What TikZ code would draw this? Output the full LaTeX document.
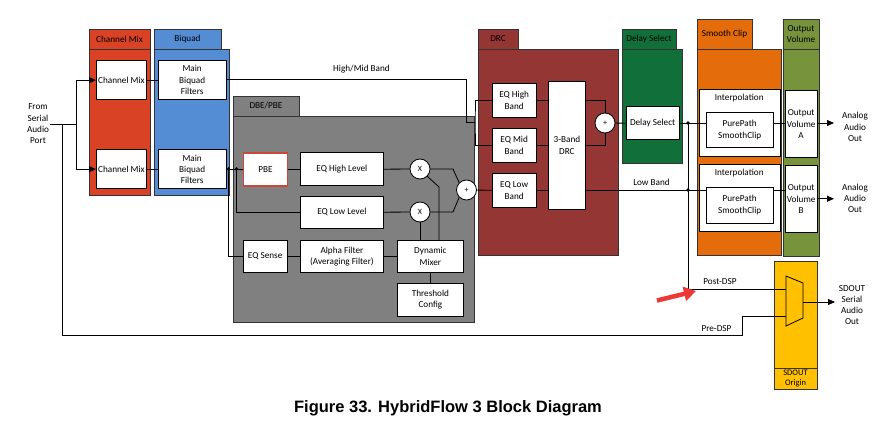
\documentclass[tikz,border=0pt]{standalone}
\usepackage{fontspec}
\setmainfont{Carlito}
\newfontfamily\capfont{Liberation Sans}
\usetikzlibrary{arrows.meta}
\definecolor{cmred}{RGB}{217,66,36}
\definecolor{bqblue}{RGB}{85,141,213}
\definecolor{dbegray}{RGB}{128,128,128}
\definecolor{drcred}{RGB}{148,55,52}
\definecolor{dsgreen}{RGB}{17,112,58}
\definecolor{scorange}{RGB}{228,108,10}
\definecolor{ovgreen}{RGB}{119,147,60}
\definecolor{sdyellow}{RGB}{255,192,0}
\definecolor{pbered}{RGB}{205,70,60}
\definecolor{annred}{RGB}{238,56,56}
\begin{document}
\begin{tikzpicture}[x=1pt,y=-1pt,
 every node/.style={font=\fontsize{9.2}{11.3}\selectfont, inner sep=1pt},
 grp/.style={draw=black!80, line width=0.8pt},
 blk/.style={draw=black, fill=white, line width=0.8pt, align=center, anchor=north west},
 wh/.style 2 args={minimum width=#1pt, minimum height=#2pt},
 circ/.style={circle, draw=black, fill=white, line width=0.8pt, minimum size=20pt, inner sep=0pt, font=\fontsize{8}{9}\selectfont},
 wire/.style={line width=0.8pt, draw=black},
 arr/.style={wire, -{Triangle[length=7pt,width=6pt]}},
 jdot/.style={circle, fill=black, inner sep=0pt, minimum size=3.6pt},
 lbl/.style={align=center}
]
\useasboundingbox (0,0) rectangle (884,425);
\fill[white] (0,0) rectangle (884,425);

% ---------- groups ----------
\draw[grp, fill=cmred] (89,29) rectangle (150,195);
\draw[grp] (89,49) -- (150,49);
\node (cmT) at (119.5,39) {Channel Mix};

\draw[grp, fill=bqblue] (154,29) rectangle (221,49);
\draw[grp, fill=bqblue] (154,49) rectangle (229,195);
\node (bqT) at (187.5,39) {Biquad};

\draw[grp, fill=dbegray] (233,96) rectangle (299,116);
\draw[grp, fill=dbegray] (233,116) rectangle (474,322);
\node (dbeT) at (266,106) {DBE/PBE};

\draw[grp, fill=drcred] (478,29) rectangle (518,49);
\draw[grp, fill=drcred] (478,49) rectangle (618,255);
\node (drcT) at (498,39) {DRC};

\draw[grp, fill=dsgreen] (622,29) rectangle (676,49);
\draw[grp, fill=dsgreen] (622,49) rectangle (682,163);
\node (dsT) at (649,39) {Delay Select};

\draw[grp, fill=scorange] (697,19) rectangle (752,49);
\draw[grp, fill=scorange] (697,49) rectangle (781,255);
\node (scT) at (724.5,34) {Smooth Clip};

\draw[grp, fill=ovgreen] (783,19) rectangle (819,256);
\draw[grp] (783,49) -- (819,49);
\node[lbl] (ovT) at (801,34) {Output\\Volume};

\draw[grp, fill=sdyellow] (774,261) rectangle (817,389);
\draw[grp] (774,368) -- (817,368);
\node[lbl, font=\fontsize{8.5}{10}\selectfont] (sdT) at (795.5,378.5) {SDOUT\\Origin};

% ---------- blocks ----------
\node[blk, wh={50}{39.5}] (cmA) at (96,60) {Channel Mix};
\node[blk, wh={50}{39.5}] (cmB) at (96,149) {Channel Mix};
\node[blk, wh={67.5}{39}] (bqA) at (158,60) {Main\\Biquad\\Filters};
\node[blk, wh={67.5}{39}] (bqB) at (158,149.5) {Main\\Biquad\\Filters};

\node[blk, wh={43.5}{33}, draw=pbered, line width=1.3pt] (pbe) at (243,152.5) {PBE};
\node[blk, wh={83}{33}] (eqhl) at (300,152.5) {EQ High Level};
\node[blk, wh={83}{32}] (eqll) at (300,196) {EQ Low Level};
\node[blk, wh={43.5}{32}] (eqs) at (243,240) {EQ Sense};
\node[blk, wh={83}{32}] (alpha) at (300,240) {Alpha Filter\\(Averaging Filter)};
\node[blk, wh={66}{32}] (dmix) at (397,240) {Dynamic\\Mixer};
\node[blk, wh={66}{33}] (thr) at (397,283) {Threshold\\Config};
\node[circ] (x1) at (420,169) {X};
\node[circ] (x2) at (420,212) {X};
\node[circ] (p1) at (466.5,190) {+};

\node[blk, wh={43.5}{33.5}] (eqhb) at (492,83.25) {EQ High\\Band};
\node[blk, wh={43.5}{33.5}] (eqmb) at (492,128.25) {EQ Mid\\Band};
\node[blk, wh={43.5}{33.5}] (eqlb) at (492,173.25) {EQ Low\\Band};
\node[blk, wh={37}{128}] (drc3) at (548,81) {3-Band\\DRC};
\node[circ] (p2) at (605,123) {+};

\node[blk, wh={52.5}{33}] (dsel) at (626,106.5) {Delay Select};

\node[blk, wh={80.5}{67}] (int1) at (699,89) {};
\node (int1T) at (739.25,98.5) {Interpolation};
\node[blk, wh={66.5}{35.5}] (pp1) at (706,112) {PurePath\\SmoothClip};
\node[blk, wh={80.5}{67}] (int2) at (699,164) {};
\node (int2T) at (739.25,173.5) {Interpolation};
\node[blk, wh={66.5}{35.5}] (pp2) at (706,187) {PurePath\\SmoothClip};

\node[blk, wh={31.5}{66.5}] (ovA) at (785,90.5) {Output\\Volume\\A};
\node[blk, wh={31.5}{66.5}] (ovB) at (785,165.5) {Output\\Volume\\B};

% ---------- free texts ----------
\node[lbl] (src) at (38,124) {From\\Serial\\Audio\\Port};
\node[lbl] (aoA) at (855,127) {Analog\\Audio\\Out};
\node[lbl] (aoB) at (855,198.5) {Analog\\Audio\\Out};
\node[lbl] (sdo) at (852,305) {SDOUT\\Serial\\Audio\\Out};
\node (hmL) at (361.5,69) {High/Mid Band};
\node (lbL) at (651.5,182) {Low Band};
\node (postL) at (720,282) {Post-DSP};
\node (preL) at (716.5,328.5) {Pre-DSP};
\node[font=\capfont\bfseries\fontsize{16.5}{20}\selectfont] (cap) at (448,408) {Figure 33. HybridFlow 3 Block Diagram};

% ---------- coordinates ----------
\coordinate (j0) at (76,124);
\coordinate (j1) at (62,124);
\coordinate (preC) at (62,335);
\coordinate (preK) at (742,335);
\coordinate (hmK) at (466.5,122);
\coordinate (hm) at (475,122);
\coordinate (d1) at (228.5,169);
\coordinate (d2) at (236.5,169);
\coordinate (k1) at (453,169);
\coordinate (k2) at (453,212);
\coordinate (dm2) at (439,187);
\coordinate (dA) at (688,123);
\coordinate (dB) at (688,190);
\coordinate (oA) at (834,123);
\coordinate (oB) at (834,198.75);
\coordinate (muxTL) at (786,276);
\coordinate (muxTR) at (803,283);
\coordinate (muxBR) at (803,318);
\coordinate (muxBL) at (786,326);
\coordinate (muxI1) at (786,289);
\coordinate (muxI2) at (786,316);
\coordinate (muxO) at (803,302);
\coordinate (sdoTip) at (835,302);
\coordinate (ra1) at (657,300.5);
\coordinate (ra2) at (696,291);

% ---------- connectors ----------
\draw[wire] (src.east |- j0) -- (j0);
\draw[arr] (j0) |- (cmA.west);
\draw[arr] (j0) |- (cmB.west);
\draw[wire] (j1) -- (preC) -- (preK) |- (muxI2);
\draw[wire] (cmA.east) -- (cmA.east -| bqA.west);
\draw[wire] (cmB.east) -- (cmB.east -| bqB.west);
\draw[wire] (bqA.east) -| (hmK) -- (hm);
\draw[wire] (eqhb.west) -| (hm) |- (eqmb.west);
\draw[wire] (bqB.east) -- (pbe.west);
\draw[wire] (d1) |- (eqs.west);
\draw[wire] (d2) |- (eqll.west);
\node[jdot] at (d1) {};
\node[jdot] at (d2) {};
\draw[wire] (pbe) -- (eqhl);
\draw[wire] (eqhl) -- (x1);
\draw[wire] (eqll) -- (x2);
\draw[wire] (x1.east) -- (k1) -- (p1.135);
\draw[wire] (x2.east) -- (k2) -- (p1.-135);
\draw[wire] (x2.south) -- (x2.south |- dmix.north);
\draw[wire] (x1.-45) -- (dm2) -- (dm2 |- dmix.north);
\draw[wire] (dmix) -- (thr);
\draw[wire] (eqs) -- (alpha);
\draw[wire] (alpha) -- (dmix);
\draw[wire] (p1) -- (eqlb);
\draw[wire] (eqhb.east) -- (eqhb.east -| drc3.west);
\draw[wire] (eqmb.east) -- (eqmb.east -| drc3.west);
\draw[wire] (eqlb.east) -- (eqlb.east -| drc3.west);
\draw[wire] (eqhb.east -| drc3.east) -| (p2.north);
\draw[wire] (eqmb.east -| drc3.east) -| (p2.south);
\draw[wire] (p2) -- (dsel);
\draw[wire] (dsel.east) -- (dsel.east -| pp1.west);
\draw[wire] (pp1.east |- dA) -- (ovA.west |- dA);
\draw[arr] (ovA.east |- dA) -- (oA);
\draw[wire] (eqlb.east -| drc3.east) -- (eqlb.east -| pp2.west);
\draw[wire] (pp2.east |- dB) -- (ovB.west |- dB);
\draw[arr] (ovB.east |- oB) -- (oB);
\draw[wire] (dA) |- (muxI1);
\node[jdot] at (dA) {};
\node[jdot] at (dB) {};
\draw[wire] (muxTL) -- (muxTR) -- (muxBR) -- (muxBL) -- cycle;
\draw[arr] (muxO) -- (sdoTip);
\draw[annred, line width=4.5pt, -{Triangle[length=12pt,width=14pt]}] (ra1) -- (ra2);
\end{tikzpicture}
\end{document}
